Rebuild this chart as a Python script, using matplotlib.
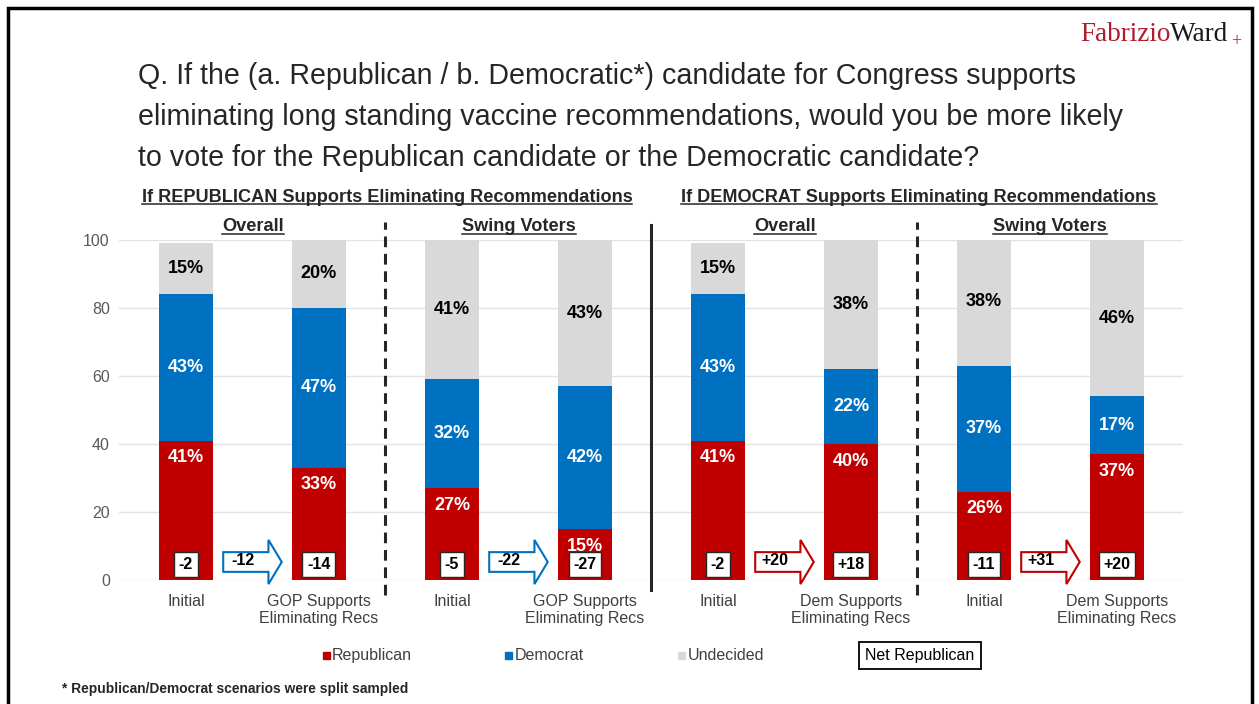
import matplotlib.pyplot as plt
from matplotlib.patches import Polygon, Rectangle
from matplotlib.lines import Line2D

plt.rcParams['font.family'] = ['Liberation Sans', 'DejaVu Sans']

# survey results, one bar per scenario
labels = ['Initial', 'GOP Supports\nEliminating Recs', 'Initial', 'GOP Supports\nEliminating Recs',
          'Initial', 'Dem Supports\nEliminating Recs', 'Initial', 'Dem Supports\nEliminating Recs']
republican = [41, 33, 27, 15, 41, 40, 26, 37]
democrat = [43, 47, 32, 42, 43, 22, 37, 17]
undecided = [15, 20, 41, 43, 15, 38, 38, 46]
net_rep = ['-2', '-14', '-5', '-27', '-2', '+18', '-11', '+20']
shift = ['-12', '-22', '+20', '+31']

section_titles = ['If REPUBLICAN Supports Eliminating Recommendations',
                  'If DEMOCRAT Supports Eliminating Recommendations']
group_titles = ['Overall', 'Swing Voters', 'Overall', 'Swing Voters']

RED = '#c00000'
BLUE = '#0070c0'
GRAY = '#d9d9d9'
TXT = '#262626'
W, H = 1259, 704

fig = plt.figure(figsize=(12.59, 7.04), dpi=100)
ax = fig.add_axes([0.0949, 0.1761, 0.8451, 0.4830])

x = list(range(len(labels)))
w = 0.4
bot2 = [r + d for r, d in zip(republican, democrat)]
ax.bar(x, republican, w, color=RED, zorder=2)
ax.bar(x, democrat, w, bottom=republican, color=BLUE, zorder=2)
ax.bar(x, undecided, w, bottom=bot2, color=GRAY, zorder=2)

for i in x:
    ax.text(i, republican[i] - 5, f'{republican[i]}%', ha='center', va='center',
            color='white', fontsize=13, fontweight='bold', zorder=4)
    ax.text(i, republican[i] + democrat[i] / 2, f'{democrat[i]}%', ha='center', va='center',
            color='white', fontsize=13, fontweight='bold', zorder=4)
    ax.text(i, bot2[i] + undecided[i] / 2, f'{undecided[i]}%', ha='center', va='center',
            color='black', fontsize=13, fontweight='bold', zorder=4)
    ax.text(i, 4.6, net_rep[i], ha='center', va='center', color='black', fontsize=11.5,
            fontweight='bold', zorder=5,
            bbox=dict(boxstyle='square,pad=0.3', fc='white', ec='#262626', lw=1))

# shift arrows between paired bars
for k, s in enumerate(shift):
    x0 = 2 * k + 0.28
    x1 = 2 * k + 0.72
    xh = 2 * k + 0.62
    col = BLUE if s.startswith('-') else RED
    pts = [(x0, 2.4), (xh, 2.4), (xh, -1.2), (x1, 5.3), (xh, 11.8), (xh, 8.2), (x0, 8.2)]
    ax.add_patch(Polygon(pts, closed=True, fc='white', ec=col, lw=1.5, zorder=3, clip_on=False))
    ax.text(2 * k + 0.43, 5.6, s, ha='center', va='center', color='black', fontsize=11.5,
            fontweight='bold', zorder=4)

# separators
ax.plot([1.5, 1.5], [-4.4, 105.3], color=TXT, lw=2.2, ls=(0, (3.5, 2.2)), clip_on=False)
ax.plot([5.5, 5.5], [-4.4, 105.3], color=TXT, lw=2.2, ls=(0, (3.5, 2.2)), clip_on=False)
ax.plot([3.5, 3.5], [-2.9, 104.4], color=TXT, lw=2.2, clip_on=False)

ax.set_xlim(-0.5, 7.5)
ax.set_ylim(0, 100)
ax.set_yticks(range(0, 101, 20))
ax.set_xticks(x)
ax.set_xticklabels(labels, fontsize=11.5, color='#404040', linespacing=1.2)
ax.tick_params(axis='y', labelsize=11.5, labelcolor='#595959', length=0, pad=7)
ax.tick_params(axis='x', length=0, pad=10)
ax.grid(axis='y', color='#e3e3e3', lw=1, zorder=0)
for sp in ax.spines.values():
    sp.set_visible(False)

# question
fig.text(138 / W, 1 - 117 / H, 'Q. If the (a. Republican / b. Democratic*) candidate for Congress supports\n'
         'eliminating long standing vaccine recommendations, would you be more likely\n'
         'to vote for the Republican candidate or the Democratic candidate?',
         ha='left', va='center', fontsize=20.6, color=TXT, linespacing=1.58)

underlined = []
underlined.append(fig.text(387 / W, 1 - 202 / H, section_titles[0], ha='center',
                           va='baseline', fontsize=13.1, fontweight='bold', color=TXT))
underlined.append(fig.text(919 / W, 1 - 202 / H, section_titles[1], ha='center',
                           va='baseline', fontsize=13.1, fontweight='bold', color=TXT))
for g, cx in zip(group_titles, [253, 519, 785, 1050]):
    underlined.append(fig.text(cx / W, 1 - 231 / H, g, ha='center', va='baseline',
                               fontsize=13.1, fontweight='bold', color=TXT))

# legend
leg_y = 1 - 655.5 / H
for cx, tx, col, name in [(326.5, 332, RED, 'Republican'), (508.5, 515, BLUE, 'Democrat'),
                          (681.5, 688, GRAY, 'Undecided')]:
    fig.patches.append(Rectangle(((cx - 3.5) / W, leg_y - 3.5 / H), 7 / W, 7 / H,
                                 color=col, transform=fig.transFigure))
    fig.text(tx / W, leg_y, name, ha='left', va='center', fontsize=11.5, color='#404040')
fig.text(920 / W, leg_y, 'Net Republican', ha='center', va='center', fontsize=11.5, color='black',
         bbox=dict(boxstyle='square,pad=0.4', fc='white', ec='black', lw=1.3))

fig.text(62 / W, 1 - 689 / H, '* Republican/Democrat scenarios were split sampled',
         ha='left', va='center', fontsize=9.9, fontweight='bold', color=TXT)

# logo
fig.canvas.draw()
r = fig.canvas.get_renderer()
t1 = fig.text(1080 / W, 1 - 41 / H, 'Fabrizio', ha='left', va='baseline',
              family='Liberation Serif', fontsize=19.5, color='#b01c2e')
e1 = t1.get_window_extent(r)
t2 = fig.text(e1.x1 / W, 1 - 41 / H, 'Ward', ha='left', va='baseline',
              family='Liberation Serif', fontsize=19.5, color='#1a1a1a')
e2 = t2.get_window_extent(r)
fig.text((e2.x1 + 2) / W, 1 - 46 / H, '+', ha='left', va='baseline',
         family='Liberation Serif', fontsize=13, color='#b01c2e')

for t in underlined:
    e = t.get_window_extent(r)
    yb = t.get_position()[1] - 2.5 / H
    fig.lines.append(Line2D([e.x0 / W, e.x1 / W], [yb, yb], color=TXT, lw=1.1,
                            transform=fig.transFigure))

# slide frame
fig.patches.append(Rectangle((8 / W, -0.05), 1244 / W, 1.05 - 8 / H, fill=False,
                             ec='black', lw=2.5, transform=fig.transFigure))

fig.savefig('out.png', dpi=100)
